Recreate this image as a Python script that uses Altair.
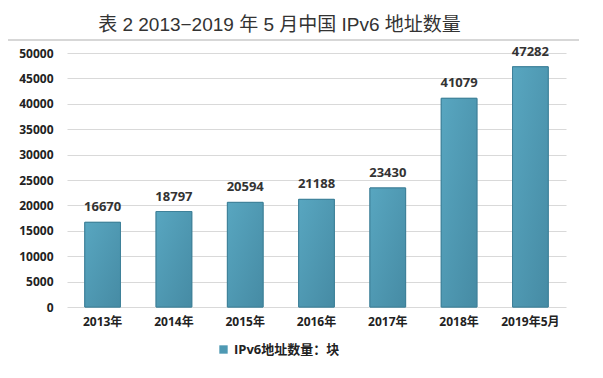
import altair as alt
import pandas as pd

categories = ["2013年", "2014年", "2015年", "2016年", "2017年", "2018年", "2019年5月"]
values = [16670, 18797, 20594, 21188, 23430, 41079, 47282]
series_name = "IPv6地址数量：块"
title_text = "表 2  2013−2019 年 5 月中国 IPv6 地址数量"

df = pd.DataFrame({"year": categories, "value": values, "series": [series_name] * len(categories)})

FONT = "Open Sans, Noto Sans CJK SC, sans-serif"

x = alt.X("year:N", sort=categories, title=None,
          scale=alt.Scale(paddingInner=0.5, paddingOuter=0.25),
          axis=alt.Axis(labelAngle=0, labelFont=FONT, labelFontSize=12, labelFontWeight="bold",
                        labelColor="#222222", ticks=False, domain=False, labelPadding=9))
y = alt.Y("value:Q", title=None,
          scale=alt.Scale(domain=[0, 50000], nice=False),
          axis=alt.Axis(values=list(range(0, 50001, 5000)), format="d", labelFont=FONT, labelFontSize=12,
                        labelFontWeight="bold", labelColor="#222222", ticks=False, domain=False,
                        labelPadding=14, gridColor="#d9d9d9", gridWidth=1))

base = alt.Chart(df)

bars_legend = base.mark_bar(stroke="#3f8199", strokeWidth=1).encode(
    x=x, y=y,
    color=alt.Color("series:N", title=None,
                    scale=alt.Scale(range=["#4e99b3"]),
                    legend=alt.Legend(orient="none", legendX=150, legendY=290, symbolType="square",
                                      symbolSize=70, labelFont=FONT, labelFontSize=13,
                                      labelFontWeight="bold", labelColor="#222222",
                                      symbolStrokeWidth=0)),
)

bars_grad = base.mark_bar(
    stroke="#3f8199", strokeWidth=1,
    color=alt.Gradient(gradient="linear",
                       stops=[alt.GradientStop(color="#58a6c0", offset=0),
                              alt.GradientStop(color="#468ba4", offset=1)],
                       x1=0, y1=0, x2=1, y2=1),
).encode(x=x, y=y)

labels = base.mark_text(baseline="bottom", dy=-8, font=FONT, fontSize=13, fontWeight="bold",
                        color="#333333").encode(x=x, y=y, text=alt.Text("value:Q", format="d"))

sep = alt.Chart(pd.DataFrame({"a": [0]})).mark_rect(color="#b0b0b0").encode(
    x=alt.value(-63), x2=alt.value(512), y=alt.value(-13.5), y2=alt.value(-12.5))

chart = alt.layer(bars_legend, bars_grad, labels, sep).properties(
    width=499, height=254,
    autosize=alt.AutoSizeParams(type="none"),
    padding={"left": 59, "top": 45, "right": 29, "bottom": 63},
    title=alt.TitleParams(title_text, font="Liberation Sans, Noto Sans CJK SC, sans-serif",
                          fontSize=19, fontWeight="normal", color="#333333",
                          anchor="middle", dx=-37, offset=5),
).configure_view(stroke=None)

chart.save("out.html", embed_options={"renderer": "svg", "actions": False})
